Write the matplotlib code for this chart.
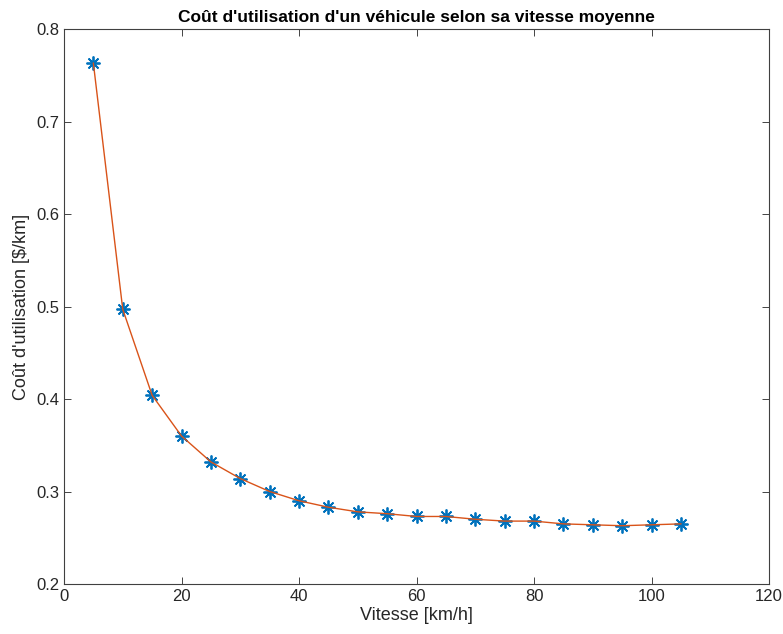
import matplotlib
matplotlib.use("Agg")
import matplotlib.pyplot as plt

vitesse = [5, 10, 15, 20, 25, 30, 35, 40, 45, 50, 55, 60, 65, 70, 75, 80, 85, 90, 95, 100, 105]
cout = [0.763, 0.497, 0.404, 0.360, 0.332, 0.314, 0.300, 0.290, 0.283, 0.278, 0.276,
        0.273, 0.273, 0.270, 0.268, 0.268, 0.265, 0.264, 0.263, 0.264, 0.265]
xticks = [0, 20, 40, 60, 80, 100, 120]
yticks = [0.2, 0.3, 0.4, 0.5, 0.6, 0.7, 0.8]

plt.rcParams['font.family'] = ['Liberation Sans', 'DejaVu Sans']

fig = plt.figure(figsize=(7.83, 6.34), dpi=100)
ax = fig.add_axes([64/783, 50/634, 705/783, 555/634])

ax.plot(vitesse, cout, linestyle='none', marker=(8, 2, 0), color='#0072BD',
        markersize=10, markeredgewidth=1.3, zorder=2)
ax.plot(vitesse, cout, '-', color='#D95319', linewidth=1.0, zorder=3)

ax.set_xlim(0, 120)
ax.set_ylim(0.2, 0.8)
ax.set_xticks(xticks)
ax.set_xticklabels([str(t) for t in xticks])
ax.set_yticks(yticks)
ax.set_yticklabels([f"{t:.1f}" for t in yticks])

for s in ax.spines.values():
    s.set_color('#404040')
    s.set_linewidth(0.8)
ax.tick_params(direction='in', top=True, right=True, length=5, width=0.6,
               colors='#262626', labelsize=12)

ax.set_xlabel("Vitesse [km/h]", fontsize=13, color='#262626', labelpad=2)
ax.set_ylabel("Coût d'utilisation [\\$/km]", fontsize=13, color='#262626', labelpad=4)
ax.set_title("Coût d'utilisation d'un véhicule selon sa vitesse moyenne",
             fontsize=12.5, fontweight='bold', pad=5)

fig.savefig("out.png", dpi=100, facecolor='white')
